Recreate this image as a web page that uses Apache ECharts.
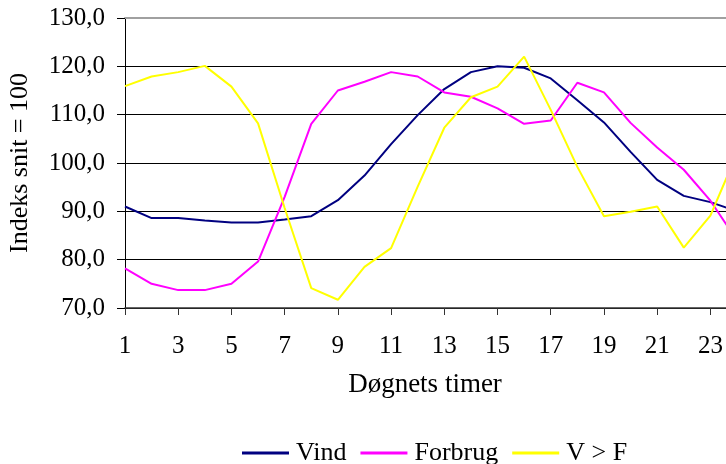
<!DOCTYPE html>
<html>
<head>
<meta charset="utf-8">
<script src="https://cdn.jsdelivr.net/npm/echarts@6/dist/echarts.min.js"></script>
<style>
  html, body { margin: 0; padding: 0; background: #fff; }
  #chart { width: 726px; height: 464px; }
</style>
</head>
<body>
<div id="chart"></div>
<script>
// Hours of the day (1..24)
const hours = ['1','2','3','4','5','6','7','8','9','10','11','12','13','14','15','16','17','18','19','20','21','22','23','24'];

// Index values, average = 100
const vind    = [91.0, 88.6, 88.6, 88.1, 87.7, 87.7, 88.3, 89.0, 92.3, 97.4, 103.9, 109.9, 115.3, 118.8, 120.0, 119.7, 117.5, 113.0, 108.4, 102.3, 96.5, 93.2, 91.9, 90.0];
const forbrug = [78.2, 75.0, 73.7, 73.7, 75.0, 79.6, 93.0, 108.1, 115.0, 116.8, 118.8, 117.9, 114.6, 113.7, 111.3, 108.1, 108.8, 116.6, 114.6, 108.3, 103.2, 98.6, 92.2, 84.0];
const vOverF  = [115.9, 117.9, 118.8, 120.1, 115.8, 108.2, 90.7, 74.1, 71.7, 78.5, 82.4, 95.1, 107.3, 113.6, 115.8, 122.0, 111.0, 99.2, 89.0, 89.9, 91.0, 82.5, 89.1, 102.0];

// Value axis ticks
const yTicks = [70, 80, 90, 100, 110, 120, 130];

const seriesNames = ['Vind', 'Forbrug', 'V > F'];
const seriesColors = ['#000080', '#FF00FF', '#FFFF00'];

const FONT = 'Liberation Serif';

const chart = echarts.init(document.getElementById('chart'), null, { renderer: 'canvas' });

const splitColors = yTicks.map((t, i) => i === yTicks.length - 1 ? '#a0a0a0' : '#000000');

chart.setOption({
  animation: false,
  backgroundColor: '#ffffff',
  textStyle: { fontFamily: FONT, color: '#000' },
  // the plot runs a little past the right edge of the canvas, hour 24 lies just outside
  grid: { left: 125, top: 18, width: 612, height: 290, containLabel: false, outerBoundsMode: 'none' },
  legend: {
    data: seriesNames.map(n => ({ name: n, icon: 'rect' })),
    left: 237,
    top: 435,
    itemWidth: 47,
    itemHeight: 3,
    itemGap: 14,
    textStyle: { fontFamily: FONT, fontSize: 26, color: '#000', padding: [0, 0, 0, 2] }
  },
  xAxis: [
    {
      type: 'category',
      data: hours,
      boundaryGap: false,
      position: 'bottom',
      name: 'Døgnets timer',
      nameLocation: 'middle',
      nameGap: 63,
      nameTextStyle: { fontFamily: FONT, fontSize: 27, color: '#000', padding: [0, 12, 0, 0] },
      axisLine: { show: true, lineStyle: { color: '#333', width: 1.5 } },
      axisTick: { show: true, interval: 1, length: 7, lineStyle: { color: '#333', width: 1 } },
      axisLabel: { interval: 1, margin: 26, fontFamily: FONT, fontSize: 25, color: '#000' },
      splitLine: { show: false }
    },
    {
      type: 'category',
      data: hours,
      boundaryGap: false,
      position: 'top',
      axisLine: { show: true, lineStyle: { color: '#a0a0a0', width: 2 } },
      axisTick: { show: false },
      axisLabel: { show: false },
      splitLine: { show: false }
    }
  ],
  yAxis: {
    type: 'value',
    min: yTicks[0],
    max: yTicks[yTicks.length - 1],
    interval: yTicks[1] - yTicks[0],
    name: 'Indeks snit = 100',
    nameLocation: 'middle',
    nameRotate: 90,
    nameGap: 92,
    nameTextStyle: { fontFamily: FONT, fontSize: 26, color: '#000' },
    axisLine: { show: true, lineStyle: { color: '#000', width: 1 } },
    axisTick: { show: true, length: 8, lineStyle: { color: '#000', width: 1 } },
    axisLabel: {
      margin: 20,
      fontFamily: FONT,
      fontSize: 25,
      color: '#000',
      formatter: v => v.toFixed(1).replace('.', ',')
    },
    splitLine: { show: true, lineStyle: { color: splitColors, width: 1 } }
  },
  series: [vind, forbrug, vOverF].map((d, i) => ({
    name: seriesNames[i],
    type: 'line',
    data: d,
    xAxisIndex: 0,
    symbol: 'none',
    showSymbol: false,
    smooth: false,
    color: seriesColors[i],
    lineStyle: { color: seriesColors[i], width: 2 },
    z: 3 + i
  }))
});
</script>
</body>
</html>
